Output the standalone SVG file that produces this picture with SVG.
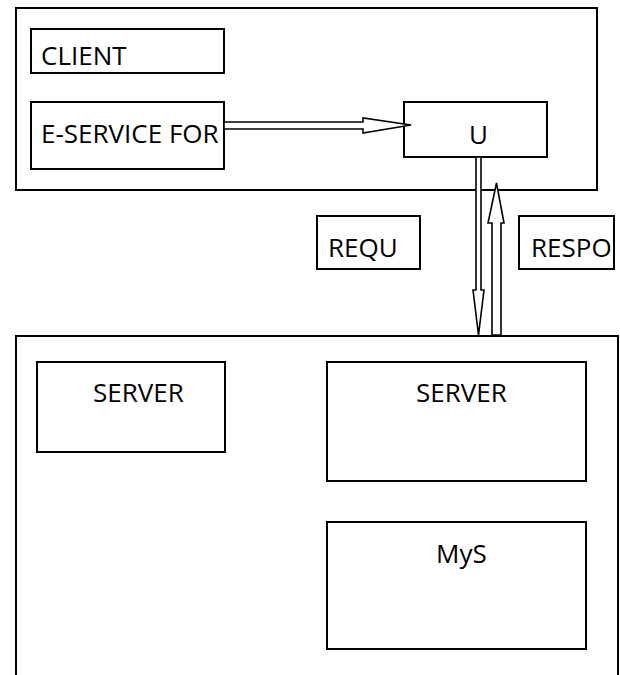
<svg xmlns="http://www.w3.org/2000/svg" width="620" height="675" viewBox="0 0 620 675">
  <style>
    .box { fill: #fff; stroke: #000; stroke-width: 2; }
    .frame { fill: none; stroke: #000; stroke-width: 2; }
    .arrow { fill: #fff; stroke: #000; stroke-width: 1.6; stroke-linejoin: miter; }
    .lbl { font-family: "Open Sans", "Liberation Sans", sans-serif; font-size: 26px; fill: #000; }
  </style>
  <rect width="620" height="675" fill="#fff"/>

  <!-- client side -->
  <g id="client-area">
    <rect class="frame" x="16" y="8" width="581" height="182"/>
  </g>
  <g id="client">
    <rect class="box" x="31" y="29" width="193" height="44"/>
    <text class="lbl" x="41" y="65">CLIENT</text>
  </g>
  <g id="eservice">
    <rect class="box" x="31" y="102" width="193" height="67"/>
    <text class="lbl" x="41" y="143">E-SERVICE FOR</text>
  </g>
  <g id="u">
    <rect class="box" x="404" y="102" width="143" height="55"/>
    <text class="lbl" x="478.5" y="144" text-anchor="middle">U</text>
  </g>

  <g id="requ">
    <rect class="box" x="317" y="216" width="103" height="53"/>
    <text class="lbl" x="328" y="257">REQU</text>
  </g>
  <g id="respo">
    <rect class="box" x="519" y="216" width="95" height="53"/>
    <text class="lbl" x="531" y="257">RESPO</text>
  </g>

  <!-- server side -->
  <g id="server-area">
    <rect class="frame" x="16" y="336" width="602" height="400"/>
  </g>
  <g id="server-left">
    <rect class="box" x="37" y="362" width="188" height="90"/>
    <text class="lbl" x="93" y="402">SERVER</text>
  </g>
  <g id="server-right">
    <rect class="box" x="327" y="362" width="259" height="119"/>
    <text class="lbl" x="416" y="402">SERVER</text>
  </g>
  <g id="mys">
    <rect class="box" x="327" y="522" width="259" height="127"/>
    <text class="lbl" x="436" y="563">MyS</text>
  </g>

  <!-- hollow block arrows -->
  <g id="connectors">
    <polygon class="arrow" points="224,122 363,122 363,118 411,125 363,133 363,129 224,129"/>
    <polygon class="arrow" points="476,157 476,290 473,290 478.5,335 484,290 481,290 481,157"/>
    <polygon class="arrow" points="492,335 492,223 488,223 496.5,183 504,223 501,223 501,335"/>
  </g>
</svg>
